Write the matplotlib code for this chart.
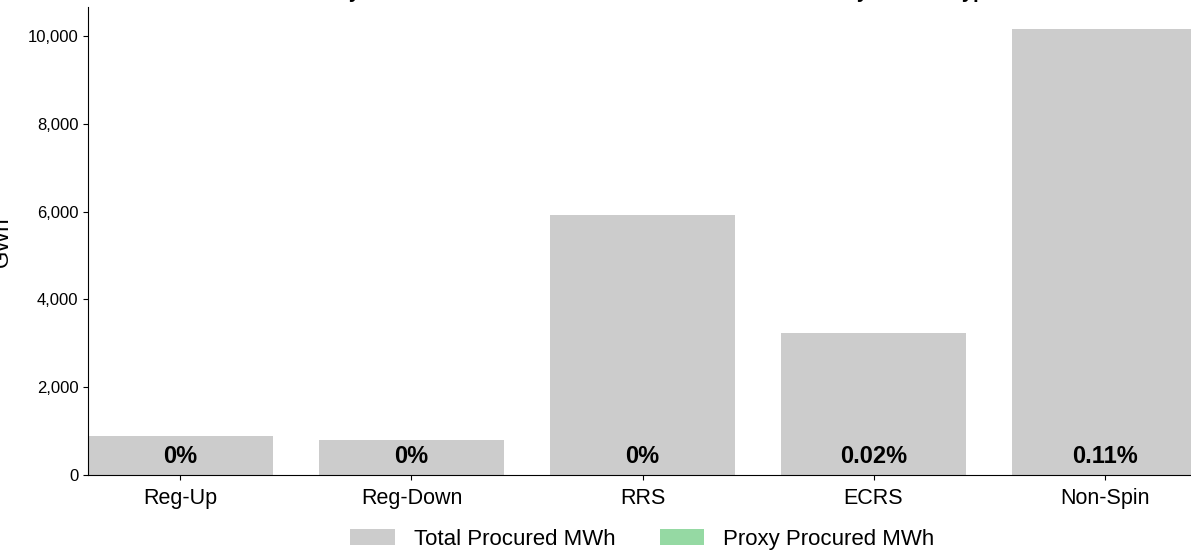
import numpy as np
import matplotlib.pyplot as plt
from matplotlib.ticker import FuncFormatter

plt.rcParams['font.family'] = ['Liberation Sans', 'DejaVu Sans']

# datos
services = ['Reg-Up', 'Reg-Down', 'RRS', 'ECRS', 'Non-Spin']
total_gwh = [890, 800, 5920, 3240, 10160]
proxy_gwh = [0, 0, 0, 0.65, 11.2]
pct_labels = ['0%', '0%', '0%', '0.02%', '0.11%']

fig = plt.figure(figsize=(11.91, 5.5), dpi=100)
ax = fig.add_axes([88 / 1191, 1 - 475 / 550, 1109 / 1191, 468 / 550])

x = np.arange(len(services))
ax.bar(x, total_gwh, width=0.8, color='#cccccc', label='Total Procured MWh')
ax.bar(x, proxy_gwh, width=0.8, color='#95d9a3', label='Proxy Procured MWh')

for xi, lab in zip(x, pct_labels):
    ax.text(xi, 273, lab, ha='center', va='baseline', fontsize=17, fontweight='bold')

ax.set_xlim(-0.4, 4.4)
ax.set_ylim(0, 10660)
ax.set_xticks(x)
ax.set_xticklabels(services, fontsize=15.5)
ax.tick_params(axis='x', pad=6)
ax.yaxis.set_major_formatter(FuncFormatter(lambda v, p: f'{v:,.0f}'))
ax.tick_params(axis='y', labelsize=12)
ax.spines['top'].set_visible(False)
ax.spines['right'].set_visible(False)

ax.legend(loc='center', bbox_to_anchor=(0.5, -0.137), ncol=2,
          frameon=False, fontsize=16, handlelength=2.0, handletextpad=0.86,
          columnspacing=2.0)

# etiqueta del eje y (recortada a la izquierda como en el original)
fig.text(13 / 1191, 1 - 242 / 550, 'GWh', rotation=90, ha='right', va='center', fontsize=16)

# titulo recortado arriba
fig.text(650 / 1191, 1 + 1.5 / 550, 'Proxy Procured MWh as a Share of Total Procured MWh by Service Type',
         ha='center', va='baseline', fontsize=14.5, fontweight='bold')

fig.savefig('out.png', dpi=100)
